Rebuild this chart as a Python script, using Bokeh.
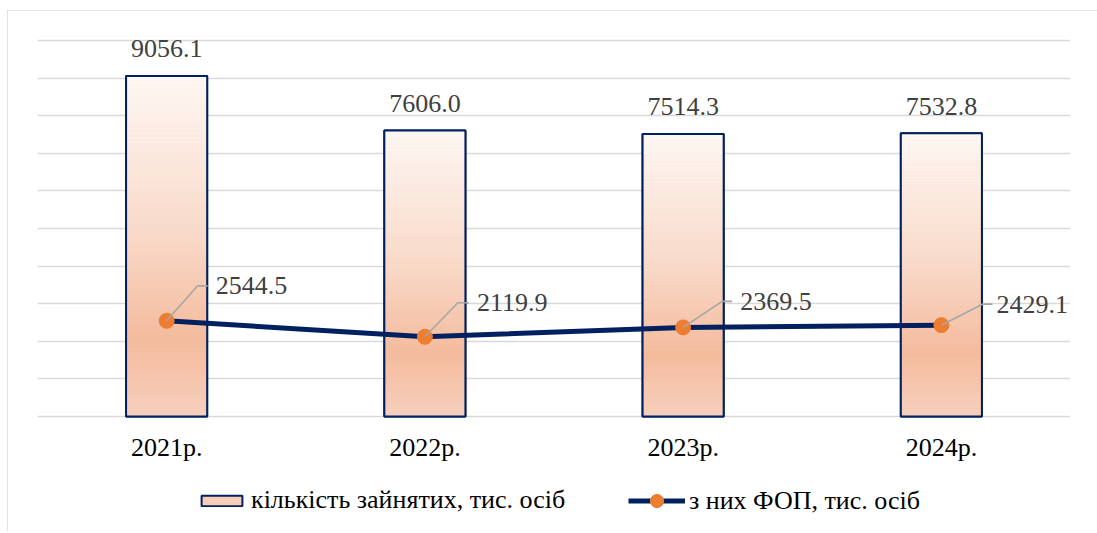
from bokeh.plotting import figure
from bokeh.models import ColumnDataSource, Range1d, FixedTicker, Legend, LegendItem, LabelSet
from bokeh.core.properties import value
from bokeh.embed import file_html
from bokeh.resources import INLINE

# ---------------- data ----------------
years = ["2021р.", "2022р.", "2023р.", "2024р."]
employed = [9056.1, 7606.0, 7514.3, 7532.8]      # кількість зайнятих, тис. осіб
fop = [2544.5, 2119.9, 2369.5, 2429.1]           # з них ФОП, тис. осіб
grid_ticks = [0, 1000, 2000, 3000, 4000, 5000, 6000, 7000, 8000, 9000, 10000]

# ---------------- style ----------------
FONT = "'Liberation Serif', 'Times New Roman', serif"
NAVY = "#002060"
ORANGE = "#ED7D31"
GRID = "#D9D9D9"
LEADER = "#A6A6A6"
LABEL = "#404040"

OX, OY = 7, 10                      # figure offset on the page
PAD = 4                             # px of headroom above the top grid line
ML, MR, MT = 37 - OX, 27, 40 - PAD - OY
H = 521
FW = 1033
FH = H - MT
PXY = 376 / 10000                   # px per data unit (y)
YMAX = 10000
BAR_W = 0.314
ux = len(years) / FW                # data units per px (x)
uy = 1 / PXY                        # data units per px (y)
Y_TOP = YMAX + PAD * uy
Y_BOT = Y_TOP - FH * uy

# leader-line / label offsets (px) for the line labels
corner_right = [31, 33, 39, 41]
corner_up = [35, 34, 26, 21]
end_right = [41, 44, 49, 51]
text_right = [49, 52, 57, 55]

# gradient stops (fraction from top of bar, rgb)
stops = [(0.0, (254, 247, 243)), (0.45, (249, 219, 203)),
         (0.78, (244, 187, 157)), (1.0, (247, 208, 190))]


def grad(t):
    for (t0, c0), (t1, c1) in zip(stops[:-1], stops[1:]):
        if t <= t1:
            f = (t - t0) / (t1 - t0)
            c = [round(a + (b - a) * f) for a, b in zip(c0, c1)]
            return "#%02x%02x%02x" % tuple(c)
    return "#%02x%02x%02x" % stops[-1][1]


xs = [i + 0.5 for i in range(len(years))]

p = figure(frame_width=FW, frame_height=FH,
           x_range=Range1d(0, len(years)), y_range=Range1d(Y_BOT, Y_TOP),
           output_backend="svg", toolbar_location=None,
           min_border_left=ML, min_border_right=MR,
           min_border_top=MT, min_border_bottom=0)
p.outline_line_color = None
p.background_fill_color = "white"
p.border_fill_color = "white"
p.styles = {"outline": "1px solid #D9D9D9", "outline-offset": "-1px",
            "margin-left": "%dpx" % OX, "margin-top": "%dpx" % OY}

p.xgrid.visible = False
p.ygrid.ticker = FixedTicker(ticks=grid_ticks)
p.ygrid.grid_line_color = GRID
p.ygrid.grid_line_width = 1.6
p.yaxis.visible = False
p.xaxis.visible = False

bars = ColumnDataSource(dict(x=xs, top=employed, base=[0] * len(xs), year=years,
                             lab=["%.1f" % v for v in employed]))

# base bar (also the legend glyph)
bar_r = p.vbar(x="x", top="top", width=BAR_W, source=bars, fill_color="#F7CDB8",
               line_color=NAVY, line_width=2)

# gradient fill built from thin slices
N = 80
L, R, B, T, C = [], [], [], [], []
for x, v in zip(xs, employed):
    for i in range(N):
        L.append(x - BAR_W / 2)
        R.append(x + BAR_W / 2)
        T.append(v * (1 - i / N))
        B.append(v * (1 - (i + 1) / N))
        C.append(grad((i + 0.5) / N))
p.quad(left=L, right=R, top=T, bottom=B, fill_color=C, line_color=C, line_width=0.6)

p.vbar(x="x", top="top", width=BAR_W, source=bars, fill_color=None,
       line_color=NAVY, line_width=2)
p.add_layout(LabelSet(x="x", y="top", text="lab", source=bars, y_offset=27,
                      text_align="center", text_baseline="middle",
                      text_font=value(FONT), text_font_size="26px",
                      text_color=LABEL))
# category labels (x axis)
p.add_layout(LabelSet(x="x", y="base", text="year", source=bars, y_offset=-31,
                      text_align="center", text_baseline="middle",
                      text_font=value(FONT), text_font_size="26px",
                      text_color="#000000"))

ln = ColumnDataSource(dict(x=xs, y=fop, lab=["%.1f" % v for v in fop],
                           dx=text_right, dy=corner_up))
line_r = p.line(x="x", y="y", source=ln, line_color=NAVY, line_width=5)
mark_r = p.scatter(x="x", y="y", source=ln, size=15, fill_color=ORANGE,
                   line_color=ORANGE)

lx, ly = [], []
for x, y, cr, cu, er in zip(xs, fop, corner_right, corner_up, end_right):
    lx.append([x, x + cr * ux, x + er * ux])
    ly.append([y, y + cu * uy, y + cu * uy])
p.multi_line(xs=lx, ys=ly, line_color=LEADER, line_width=1.6)

p.add_layout(LabelSet(x="x", y="y", text="lab", source=ln, x_offset="dx", y_offset="dy",
                      text_align="left", text_baseline="middle",
                      text_font=value(FONT), text_font_size="26px",
                      text_color=LABEL))

common = dict(orientation="horizontal", label_standoff=4,
              border_line_color=None, background_fill_alpha=0,
              label_text_font=FONT, label_text_font_size="26px",
              label_text_color="#000000", padding=0, margin=0)
leg1 = Legend(items=[LegendItem(label="кількість зайнятих, тис. осіб", renderers=[bar_r])],
              location=(159, 16), glyph_width=51, glyph_height=13, **common)
leg2 = Legend(items=[LegendItem(label="з них ФОП, тис. осіб", renderers=[line_r, mark_r])],
              location=(591, 14), glyph_width=57, glyph_height=33, **common)
p.add_layout(leg1)
p.add_layout(leg2)

open("out.html", "w").write(file_html(p, INLINE))
